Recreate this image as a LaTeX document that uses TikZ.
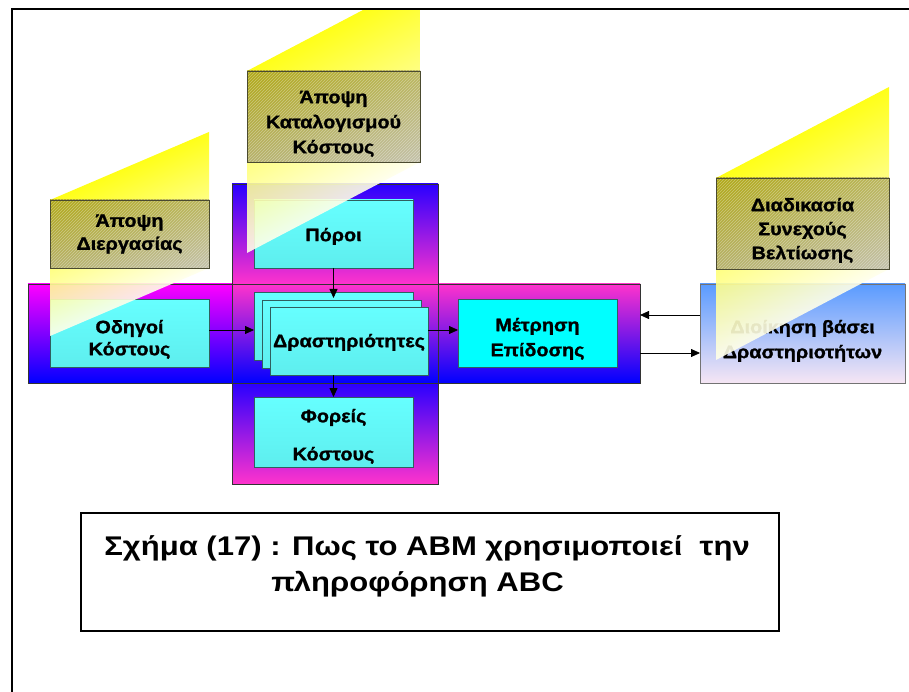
\documentclass[tikz,border=0pt]{standalone}
\usepackage{fontspec}
\setmainfont{Liberation Sans}
\newfontfamily\captionfont{Liberation Sans Bold}[FakeStretch=1.15]
\newfontfamily\labelfont{Liberation Sans Bold}[FakeStretch=1.1, FakeBold=1.3]
\usetikzlibrary{arrows.meta,shadings}

% raises the first line of a label so the text block sits lower in its box
\newcommand\firstline[1]{\rule{0pt}{#1pt}}

\definecolor{cyanlight}{HTML}{66FFFF}
\definecolor{cyanshade}{HTML}{5EEEEE}
\definecolor{cyanfull}{HTML}{00FFFF}
\definecolor{boxline}{HTML}{2F5F5F}
\definecolor{bandpink}{HTML}{FF33CC}
\definecolor{bandmagenta}{HTML}{FF00FF}
\definecolor{bandblue}{HTML}{0000FF}
\definecolor{bandblueb}{HTML}{2A00FF}
\definecolor{mgmtblue}{HTML}{5A9BFF}
\definecolor{mgmtpale}{HTML}{F6E6F4}
\definecolor{beamyellow}{HTML}{FFFF00}
\definecolor{beammid}{HTML}{FFFF9A}
\definecolor{beampale}{HTML}{FFFFEC}
\definecolor{oliveA}{HTML}{B0A816}
\definecolor{oliveB}{HTML}{BAB55C}
\definecolor{oliveC}{HTML}{B6B16C}
\definecolor{oliveD}{HTML}{C3C1AA}
\definecolor{oliveline}{HTML}{4A4A30}

\tikzset{
  boxfont/.style={font=\labelfont\fontsize{18}{24}\selectfont},
  band/.style={draw=black!80, line width=0.8pt, inner sep=0pt, outer sep=0pt, anchor=north west},
  cbox/.style={draw=boxline, line width=0.8pt, top color=cyanlight, bottom color=cyanshade,
    inner sep=0pt, outer sep=0pt, anchor=north west, align=center, boxfont},
  hatched/.style={path picture={
    \foreach \k in {0,3,...,270}{
      \draw[white, opacity=0.35, line width=0.5pt]
        ([xshift=\k pt-100pt]path picture bounding box.south west) -- ++(130pt,130pt);}}},
  callout/.style={draw=oliveline, line width=0.8pt, upper left=oliveA, upper right=oliveB,
    lower left=oliveC, lower right=oliveD, hatched, inner sep=0pt, outer sep=0pt,
    anchor=north west, align=center, boxfont},
  beam/.style={top color=beamyellow, middle color=beammid, bottom color=beampale,
    fill opacity=0.9, draw=none},
  arr/.style={-{Triangle[length=9pt,width=8pt]}, line width=0.8pt},
}

\begin{document}
\begin{tikzpicture}[x=1pt, y=-1pt]
\useasboundingbox (0,0) rectangle (909,692);
\fill[white] (0,0) rectangle (909,692);

\begin{scope}
\clip (12,10) rectangle (909,692);

% the cross of coloured bands
\node[band, top color=bandmagenta, bottom color=bandblue, minimum width=204pt, minimum height=99pt] (lband) at (28,284) {};
\node[band, top color=bandpink, bottom color=bandblue, minimum width=206pt, minimum height=99pt] (cband) at (232,284) {};
\node[band, top color=bandpink, bottom color=bandblue, minimum width=202pt, minimum height=99pt] (rband) at (438,284) {};
\node[band, top color=bandblueb, bottom color=bandpink, minimum width=206pt, minimum height=100pt] (tband) at (232,184) {};
\node[band, top color=bandblueb, bottom color=bandpink, minimum width=206pt, minimum height=101pt] (bband) at (232,383) {};

% boxes on the bands
\node[cbox, minimum width=159pt, minimum height=68pt] (poroi) at (254,200) {\firstline{18}Πόροι};
\node[cbox, minimum width=159pt, minimum height=68pt] (act1) at (254,292) {};
\node[cbox, minimum width=159pt, minimum height=68pt] (act2) at (262,300) {};
\node[cbox, minimum width=158pt, minimum height=68pt] (act3) at (270,307) {\firstline{16}Δραστηριότητες};
\node[cbox, minimum width=159pt, minimum height=70pt] (foreis) at (254,397) {\firstline{22}Φορείς\\[14pt]Κόστους};
\node[cbox, minimum width=159pt, minimum height=68pt] (odigoi) at (50,299) {\firstline{26}Οδηγοί\\[-2pt]Κόστους};
\node[cbox, fill=cyanfull, top color=cyanfull, bottom color=cyanfull, minimum width=159pt, minimum height=68pt]
  (metrisi) at (458,299) {\firstline{25}Μέτρηση\\[1pt]Επίδοσης};

% management box on the right
\node[band, draw=black!55, top color=mgmtblue, bottom color=mgmtpale, minimum width=205pt, minimum height=99pt,
  align=center, boxfont] (mgmt) at (700,284) {\firstline{28}Διοίκηση βάσει\\[1pt]Δραστηριοτήτων};

% connectors
\coordinate (row) at (0,330);
\coordinate (upper) at (0,315);
\coordinate (lower) at (0,353);
\draw[arr] (odigoi.east |- row) -- (act1.west |- row);
\draw[arr] (act3.east |- row) -- (metrisi.west |- row);
\draw[arr, shorten >=-6pt] (poroi.south) -- (act1.north);
\draw[arr] (act3.south -| foreis.north) -- (foreis.north);
\draw[arr] (mgmt.west |- upper) -- (rband.east |- upper);
\draw[arr] (rband.east |- lower) -- (mgmt.west |- lower);

% light beams behind the three view boxes
\begin{scope}[transform canvas={shift={(50pt,0pt)}, yslant=0.4277}]
  \shade[beam] (0,200) rectangle (159,336);
\end{scope}
\begin{scope}[transform canvas={shift={(247pt,0pt)}, yslant=0.526}]
  \shade[beam] (0,71) rectangle (173,253);
\end{scope}
\begin{scope}[transform canvas={shift={(716pt,0pt)}, yslant=0.526}]
  \shade[beam] (0,178) rectangle (173,360);
\end{scope}

% the three view boxes
\node[callout, minimum width=159pt, minimum height=68pt] (process) at (50,200) {Άποψη\\[-1pt]Διεργασίας};
\node[callout, minimum width=173pt, minimum height=91pt] (costing) at (247,71)
  {\firstline{27}Άποψη\\[1pt]Καταλογισμού\\[1pt]Κόστους};
\node[callout, minimum width=173pt, minimum height=91pt] (improve) at (716,178)
  {\firstline{27}Διαδικασία\\Συνεχούς\\Βελτίωσης};

% caption
\node[draw, line width=1.6pt, minimum width=698pt, minimum height=118pt, inner sep=0pt, outer sep=0pt,
  anchor=north west] (capbox) at (81,513) {};
\node[font=\captionfont\fontsize{27}{36}\selectfont, align=center, inner sep=0pt] (captext) at (427,566)
  {Σχήμα (17) : Πως το ABM χρησιμοποιεί\ \ την\\πληροφόρηση ABC\hspace*{19pt}};
\end{scope}

% page frame
\draw[line width=2.2pt] (12,700) -- (12,9) -- (920,9);
\end{tikzpicture}
\end{document}
